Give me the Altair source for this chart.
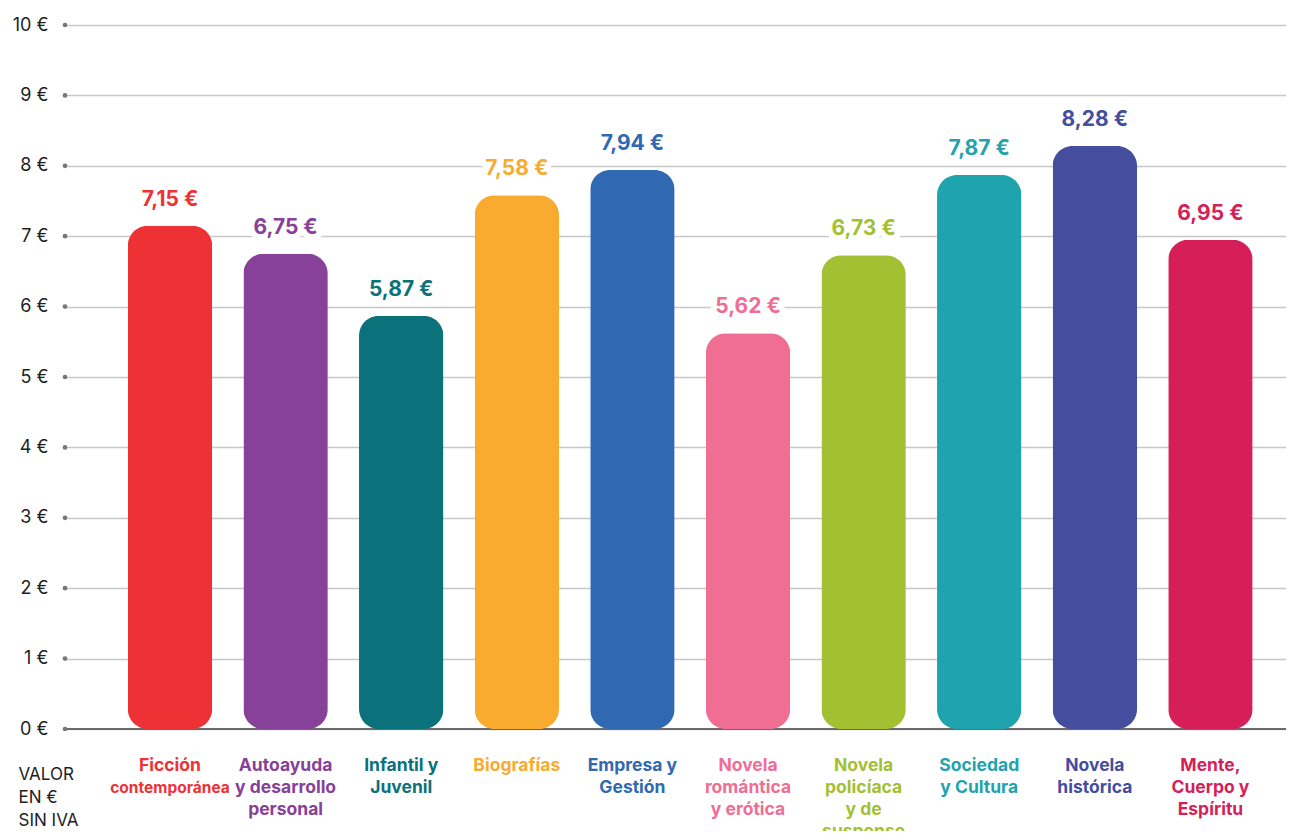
import altair as alt
import pandas as pd

categories = [
    "Ficción contemporánea", "Autoayuda y desarrollo personal", "Infantil y Juvenil",
    "Biografías", "Empresa y Gestión", "Novela romántica y erótica",
    "Novela policíaca y de suspense", "Sociedad y Cultura", "Novela histórica",
    "Mente, Cuerpo y Espíritu",
]
label_lines = [
    ["Ficción", "contemporánea"],
    ["Autoayuda", "y desarrollo", "personal"],
    ["Infantil y", "Juvenil"],
    ["Biografías"],
    ["Empresa y", "Gestión"],
    ["Novela", "romántica", "y erótica"],
    ["Novela", "policíaca", "y de", "suspense"],
    ["Sociedad", "y Cultura"],
    ["Novela", "histórica"],
    ["Mente,", "Cuerpo y", "Espíritu"],
]
values = [7.15, 6.75, 5.87, 7.58, 7.94, 5.62, 6.73, 7.87, 8.28, 6.95]
colors = ["#EE3135", "#874198", "#0B717A", "#F9AB2F", "#3069B2",
          "#F06D94", "#A3C032", "#1FA3AD", "#454D9E", "#D61E58"]
y_ticks = [0, 1, 2, 3, 4, 5, 6, 7, 8, 9, 10]
y_title = ["VALOR", "EN €", "SIN IVA"]

FONT = "Inter"

bars_df = pd.DataFrame({"cat": categories, "v": values})
ticks_df = pd.DataFrame({"v": y_ticks})
lab_rows = []
for c, lines in zip(categories, label_lines):
    for i, t in enumerate(lines):
        lab_rows.append({"cat": c, "line": i, "txt": t,
                         "fs": 15.5 if t == "contemporánea" else 17.5})
lab_df = pd.DataFrame(lab_rows)

xscale = alt.Scale(domain=categories, paddingInner=0.27, paddingOuter=0.416, align=0.653)
yscale = alt.Scale(domain=[0, 10], nice=False, zero=True)
cscale = alt.Scale(domain=categories, range=colors)

yaxis = alt.Axis(
    values=y_ticks, labelExpr="datum.value + ' €'", labelFontSize=18, labelColor="#1e1e1e",
    labelFont=FONT, labelPadding=17, ticks=False, domain=False,
    grid=True, gridColor="#c8c8c8", gridWidth=1.5,
    title=y_title, titleAngle=0, titleAlign="left", titleBaseline="top",
    titleX=-47, titleY=741, titleFontSize=17, titleFontWeight="normal",
    titleColor="#1e1e1e", titleFont=FONT, titleLineHeight=23,
)

X = alt.X("cat:N", scale=xscale, axis=None, sort=categories)
Y = alt.Y("v:Q", scale=yscale, axis=yaxis)
C = alt.Color("cat:N", scale=cscale, legend=None)

zero = alt.Chart(ticks_df).mark_rule(color="#6b6b6b", strokeWidth=2).encode(
    y=alt.Y(datum=0, scale=yscale, axis=yaxis)
)

dots = alt.Chart(ticks_df).mark_circle(size=22, color="#777777", opacity=1).encode(
    x=alt.value(0), y=Y
)

bars = alt.Chart(bars_df).mark_bar(cornerRadius=20).encode(x=X, y=Y, color=C)

lbl_calc = "replace(format(datum.v, '.2f'), '.', ',') + ' €'"
halo = alt.Chart(bars_df).mark_text(
    font=FONT, fontSize=21, fontWeight="bold", dy=-26, baseline="middle",
    stroke="white", strokeWidth=12, fill="white", strokeJoin="round"
).transform_calculate(lbl=lbl_calc).encode(x=X, y=Y, text="lbl:N")

vlabels = alt.Chart(bars_df).mark_text(
    font=FONT, fontSize=21, fontWeight="bold", dy=-26, baseline="middle"
).transform_calculate(lbl=lbl_calc).encode(x=X, y=Y, text="lbl:N", color=C)

cat_layers = []
for i in range(4):
    cat_layers.append(
        alt.Chart(lab_df).transform_filter(f"datum.line == {i}").mark_text(
            font=FONT, fontWeight="bold", baseline="middle", dy=37 + 22 * i
        ).encode(
            x=X,
            y=alt.Y(datum=0, scale=yscale, axis=yaxis),
            text="txt:N",
            color=C,
            size=alt.Size("fs:Q", scale=None, legend=None),
        )
    )

chart = alt.layer(zero, bars, dots, halo, vlabels, *cat_layers).properties(
    width=1221, height=704,
    autosize=alt.AutoSizeParams(type="none"),
    padding={"left": 57, "top": 17, "right": 0, "bottom": 102},
).configure_view(stroke=None)

chart.save("out.html", embed_options={"renderer": "svg", "actions": False})
